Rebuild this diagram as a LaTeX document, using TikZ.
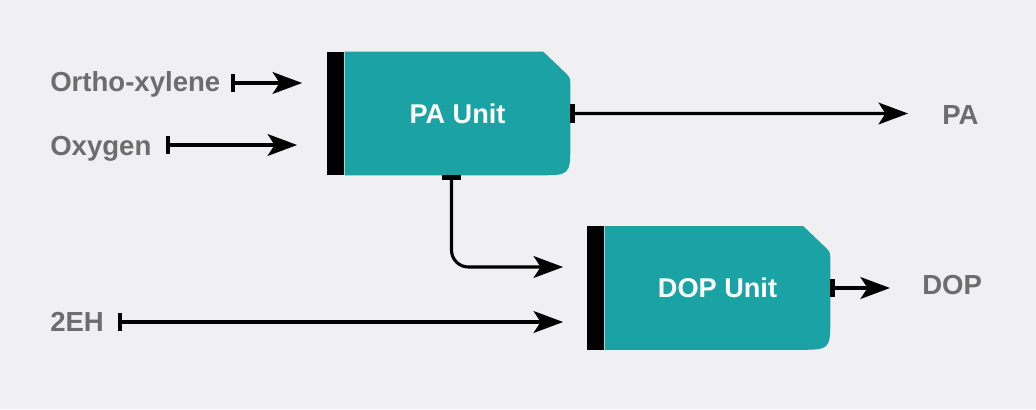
\documentclass[tikz,border=0pt]{standalone}
\usepackage{fontspec}
\setmainfont{Liberation Sans}
\usetikzlibrary{arrows.meta, calc, positioning, backgrounds}
\definecolor{unitteal}{HTML}{1AA2A4}
\definecolor{labelgray}{HTML}{6D6D6D}
\definecolor{bggray}{HTML}{F0F0F2}
\tikzset
{%
unit/.style={minimum width=5.625cm, minimum height=3.075cm, inner sep=0, text=white, font=\fontsize{19.3}{23}\selectfont\bfseries},
unitbar/.style={fill=black, minimum width=0.425cm, minimum height=3.075cm, inner sep=0},
stream/.style={text=labelgray, inner sep=0, text height=14pt, text depth=0pt, font=\fontsize{19.6}{23}\selectfont\bfseries},
flow/.style={line width=2.2pt, {Bar[width=13pt, line width=3pt]}-{Stealth[length=21pt, width=15.5pt, inset=5pt]}}
}

\begin{document}
\begin{tikzpicture}[x=0.025cm, y=-0.025cm]
	\useasboundingbox (0,0) rectangle (1036,409);

	\node[unit] (pa) at (457.5,113.5) {PA Unit};
	\node[unitbar, left=0pt of pa] (pabar) {};
	\node[unit] (dop) at (717.5,288) {DOP Unit};
	\node[unitbar, left=0pt of dop] (dopbar) {};

	\node[stream, anchor=west] (ortho) at (50,82) {Ortho-xylene};
	\node[stream, anchor=west] (oxygen) at (50,146) {Oxygen};
	\node[stream, anchor=west] (eh) at (50,322) {2EH};
	\node[stream, anchor=west] (paout) at (942,115) {PA};
	\node[stream, anchor=west] (dopout) at (922,285) {DOP};

	\begin{scope}[on background layer]
		\fill[bggray] (0,0) rectangle (1036,409);
		\foreach \u in {pa, dop} {
			\fill[unitteal] (\u.south west) -- (\u.north west) -- ($(\u.north east)+(-27,0)$)
			-- ($(\u.north east)+(-5,21)$) .. controls ($(\u.north east)+(0,26)$) .. ($(\u.north east)+(0,36)$)
			-- ($(\u.south east)+(0,-32)$) .. controls (\u.south east) .. ($(\u.south east)+(-32,0)$) -- cycle;
		}
	\end{scope}

	\draw[flow] ($(ortho.east)+(10,1)$) -- ($(ortho.east -| pabar.west)+(-25,1)$);
	\draw[flow] ($(oxygen.east)+(14,-1)$) -- ($(oxygen.east -| pabar.west)+(-30,-1)$);
	\draw[flow] (pa.east) -- ($(paout.west)+(-34,-1.5)$);
	\draw[flow, rounded corners=12pt] ($(pa.south)+(-6,0)$) |- ($(dopbar.west)+(-24,-21)$);
	\draw[flow] ($(eh.east)+(14,0)$) -- ($(eh.east -| dopbar.west)+(-24,0)$);
	\draw[flow] (dop.east) -- ($(dopout.west |- dop.east)+(-32,0)$);
\end{tikzpicture}
\end{document}
